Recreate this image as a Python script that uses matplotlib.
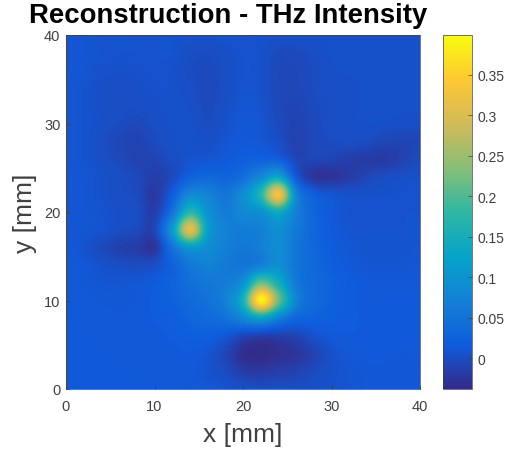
import numpy as np
import matplotlib.pyplot as plt
from matplotlib.colors import LinearSegmentedColormap

plt.rcParams['font.family'] = ['Liberation Sans', 'DejaVu Sans']

# intensity, in thousandths, rows y=40 down to y=0, columns x=0..40 step 2
rows = [
    [12,10, 8, 8, 8, 8, 8, 8, 6, 8, 8, 8, 6, 6, 6, 6, 6, 5, 5, 5, 5],
    [12,10, 8, 8, 8, 8, 8, 2, 0, 4, 8, 6,-2,-2, 2, 5, 6, 5, 5, 5, 5],
    [12,10, 6, 5, 6, 8, 6, 0,-2, 2, 8, 6,-4,-4, 0, 4, 5, 5, 5, 5, 5],
    [12, 8, 4, 3, 4, 6, 6, 2,-3, 2, 8, 6,-4,-5, 0, 3, 4, 5, 5, 5, 5],
    [12, 8, 4, 2, 2, 4, 6, 4,-2, 4,10, 8,-4,-8,-2, 2, 4, 5, 5, 5, 5],
    [12, 8, 4, 0,-4, 2, 5, 6, 0, 6,12,10,-2,-10,-3, 2, 4, 5, 4, 3, 3],
    [12, 8, 2,-6,-10,-2, 5, 6, 4,10,14,12, 4,-12,-4, 0, 2, 0,-6,-8,-6],
    [12, 8, 4,-3,-10,-8, 2, 8,10,14,22,26,22,-6,-6,-8,-14,-18,-18,-10,-2],
    [12,10, 6, 2,-4,-14,-2,24,34,30,44,85,130,14,-24,-26,-16,-6, 0, 4, 6],
    [12,10, 6, 2,-2,-20,20,85,75,55,90,170,330,80,22,10, 6, 6, 6, 7, 8],
    [12,10, 8, 4, 2,-14,50,170,100,65,85,95,140,70,32,14, 8, 7, 7, 8, 8],
    [12,10, 8, 2,-2,-6,110,310,120,75,65,72,95,60,32,16, 9, 8, 8, 8, 9],
    [13, 8,-2,-12,-16,-22,50,110,90,70,58,70,90,55,34,19,11, 9, 9, 9,10],
    [14,12, 6, 2, 0, 4,26,58,72,62,55,72,95,54,36,22,14,10,10,10,11],
    [14,13,10,10,12,16,28,46,58,66,95,220,150,60,38,27,19,14,14,14,14],
    [15,14,13,12,13,18,26,38,50,72,155,390,220,75,38,26,18,15,15,15,15],
    [15,15,14,14,14,17,22,30,38,50,80,120,70,32,26,22,18,16,16,16,16],
    [16,15,15,14,14,15,18,22,22,12,-6,-14,-14,-8, 6,14,16,16,16,16,16],
    [16,16,15,15,14,14,15,16,10,-6,-32,-34,-30,-24,-10, 6,12,15,15,13,14],
    [16,16,16,15,15,14,14,14, 8, 0,-16,-20,-14,-10,-2, 6,10,12,12,12,13],
    [16,16,16,16,15,15,14,14,12, 8, 4, 2, 2, 2, 4, 8,10,12,13,13,13],
]
x_ticks = [0, 10, 20, 30, 40]
y_ticks = [0, 10, 20, 30, 40]
cbar_ticks = [0, 0.05, 0.1, 0.15, 0.2, 0.25, 0.3, 0.35]
cbar_labels = ['0', '0.05', '0.1', '0.15', '0.2', '0.25', '0.3', '0.35']
vmin = -0.038
vmax = 0.399

parula = LinearSegmentedColormap.from_list('parula', [
    '#352a87', '#0f5cdd', '#1481d6', '#06a4ca', '#2eb7a4',
    '#87bf77', '#d1bb59', '#fec832', '#f9fb0e'])

z = np.array(rows) / 1000.0

fig = plt.figure(figsize=(5.08, 4.56), dpi=100)
ax = fig.add_axes([66/508, 1 - 390/456, 354/508, 354/456])
# catrom goes through the grid values, plain bicubic flattens the peaks
im = ax.imshow(z, extent=[-1, 41, -1, 41], cmap=parula, vmin=vmin, vmax=vmax,
               interpolation='catrom', aspect='auto')
ax.set_xlim(0, 40)
ax.set_ylim(0, 40)
ax.set_xticks(x_ticks)
ax.set_yticks(y_ticks)
ax.tick_params(direction='in', length=3, width=0.5, labelsize=10.5, colors='#404040')
ax.tick_params(axis='x', pad=7)
ax.tick_params(axis='y', pad=4)
for s in ax.spines.values():
    s.set_linewidth(0.5)
    s.set_color('#404040')
ax.set_xlabel('x [mm]', fontsize=19, color='#404040', labelpad=7)
ax.set_ylabel('y [mm]', fontsize=19, color='#404040', labelpad=5)
fig.text(228/508, 1 - 16/456, 'Reconstruction - THz Intensity', fontsize=19.8,
         fontweight='bold', ha='center', va='center', color='black')

cax = fig.add_axes([443/508, 1 - 390/456, 29/508, 354/456])
cb = fig.colorbar(im, cax=cax)
cb.set_ticks(cbar_ticks)
cb.set_ticklabels(cbar_labels)
cb.ax.tick_params(direction='in', length=3, width=0.5, labelsize=10, colors='#404040', pad=4)
cb.outline.set_linewidth(0.5)
cb.outline.set_edgecolor('#404040')

fig.savefig('out.png', dpi=100)
